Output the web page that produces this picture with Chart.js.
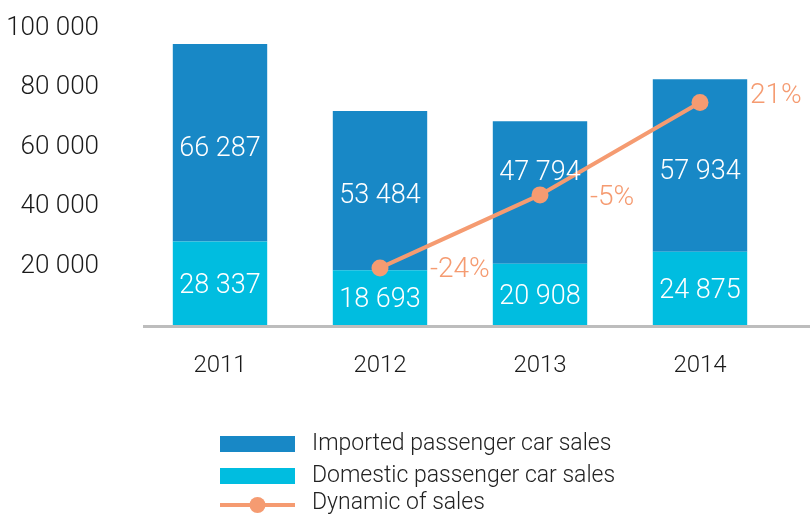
<!DOCTYPE html>
<html>
<head>
<meta charset="utf-8">
<script src="https://cdn.jsdelivr.net/npm/chart.js@4/dist/chart.umd.min.js"></script>
<style>
  html, body { margin: 0; padding: 0; background: #fff; }
  #wrap { width: 810px; height: 515px; position: relative; }
</style>
</head>
<body>
<div id="wrap"><canvas id="myChart"></canvas></div>
<script>
const years = ['2011', '2012', '2013', '2014'];
const imported = [66287, 53484, 47794, 57934];
const domestic = [28337, 18693, 20908, 24875];
const dynamicPos = [null, 19500, 44000, 75000];
const dynamicLabels = ['', '-24%', '-5%', '21%'];
const yTicks = [0, 20000, 40000, 60000, 80000, 100000];

const FONT = 'Roboto, "Noto Sans", sans-serif';
const C_IMP = '#1888C6';
const C_DOM = '#00BDE0';
const C_LINE = '#F59B71';

// сдвиги подписей по вертикали (px), чтобы не наезжали на линию
const impNudge = [6, 6, -19, 7];
const pctNudge = [0, 2, 3, -7];

function fmt(v) {
    return String(v).replace(/\B(?=(\d{3})+(?!\d))/g, ' ');
}

// подписи внутри столбцов и проценты у точек
const labelsPlugin = {
    id: 'labelsPlugin',
    afterDatasetsDraw: function(chart) {
        const ctx = chart.ctx;
        ctx.save();
        ctx.font = '300 27px ' + FONT;
        ctx.textBaseline = 'middle';
        ctx.textAlign = 'center';
        ctx.fillStyle = '#ffffff';
        [0, 1].forEach(function(di) {
            const meta = chart.getDatasetMeta(di);
            meta.data.forEach(function(bar, i) {
                const v = chart.data.datasets[di].data[i];
                const mid = (bar.y + bar.base) / 2;
                const dy = di === 1 ? impNudge[i] : 2;
                ctx.fillText(fmt(v), bar.x, mid + dy);
            });
        });
        const lm = chart.getDatasetMeta(2);
        ctx.font = '300 28px ' + FONT;
        ctx.fillStyle = C_LINE;
        ctx.textAlign = 'left';
        lm.data.forEach(function(pt, i) {
            if (!dynamicLabels[i]) return;
            ctx.fillText(dynamicLabels[i], pt.x + 50, pt.y + pctNudge[i]);
        });
        ctx.restore();
    }
};

// серая базовая линия и легенда
const axisLegendPlugin = {
    id: 'axisLegendPlugin',
    afterDraw: function(chart) {
        const ctx = chart.ctx;
        const a = chart.chartArea;
        ctx.save();
        ctx.strokeStyle = '#BDBDBD';
        ctx.lineWidth = 3;
        ctx.beginPath();
        ctx.moveTo(a.left + 3, a.bottom + 0.5);
        ctx.lineTo(chart.width, a.bottom + 0.5);
        ctx.stroke();

        const lx = 220, lw = 75, tx = 312;
        ctx.font = '300 23px ' + FONT;
        ctx.textBaseline = 'middle';
        ctx.textAlign = 'left';
        const ds = chart.data.datasets;

        ctx.fillStyle = ds[1].backgroundColor;
        ctx.fillRect(lx, 436, lw, 16);
        ctx.fillStyle = '#222';
        ctx.fillText(ds[1].label, tx, 444);

        ctx.fillStyle = ds[0].backgroundColor;
        ctx.fillRect(lx, 468, lw, 16);
        ctx.fillStyle = '#222';
        ctx.fillText(ds[0].label, tx, 476);

        ctx.strokeStyle = ds[2].borderColor;
        ctx.lineWidth = 4;
        ctx.beginPath();
        ctx.moveTo(lx, 505);
        ctx.lineTo(lx + lw, 505);
        ctx.stroke();
        ctx.fillStyle = ds[2].borderColor;
        ctx.beginPath();
        ctx.arc(lx + lw / 2, 505, 8, 0, Math.PI * 2);
        ctx.fill();
        ctx.fillStyle = '#222';
        ctx.fillText(ds[2].label, tx, 503);
        ctx.restore();
    }
};

const ctx = document.getElementById('myChart').getContext('2d');

new Chart(ctx, {
    type: 'bar',
    data: {
        labels: years,
        datasets: [
            { label: 'Domestic passenger car sales', data: domestic, backgroundColor: C_DOM, order: 1 },
            { label: 'Imported passenger car sales', data: imported, backgroundColor: C_IMP, order: 1 },
            {
                label: 'Dynamic of sales',
                type: 'line',
                data: dynamicPos,
                borderColor: C_LINE,
                backgroundColor: C_LINE,
                borderWidth: 4,
                pointRadius: 8.5,
                pointHoverRadius: 8.5,
                pointBackgroundColor: C_LINE,
                pointBorderWidth: 0,
                order: 0
            }
        ]
    },
    options: {
        responsive: true,
        maintainAspectRatio: false,
        animation: false,
        layout: { padding: { top: 28, right: 30, bottom: 134, left: 0 } },
        barPercentage: 0.59,
        categoryPercentage: 1,
        plugins: {
            legend: { display: false },
            tooltip: { enabled: false }
        },
        scales: {
            x: {
                stacked: true,
                grid: { display: false, drawTicks: false },
                border: { display: false },
                ticks: { font: { size: 24, family: FONT, weight: 300 }, color: '#1a1a1a', padding: 26 },
                afterFit: function(s) { s.height = 55; }
            },
            y: {
                stacked: true,
                min: yTicks[0],
                max: yTicks[yTicks.length - 1],
                grid: { display: false, drawTicks: false },
                border: { display: false },
                afterBuildTicks: function(s) {
                    s.ticks = yTicks.map(function(v) { return { value: v }; });
                },
                afterFit: function(s) {
                    s.width = 140;
                    s.paddingTop = 0;
                    s.paddingBottom = 0;
                },
                ticks: {
                    font: { size: 26, family: FONT, weight: 300 },
                    color: '#1a1a1a',
                    padding: 41,
                    callback: function(v) { return v === 0 ? '' : fmt(v); }
                }
            }
        }
    },
    plugins: [labelsPlugin, axisLegendPlugin]
});
</script>
</body>
</html>
